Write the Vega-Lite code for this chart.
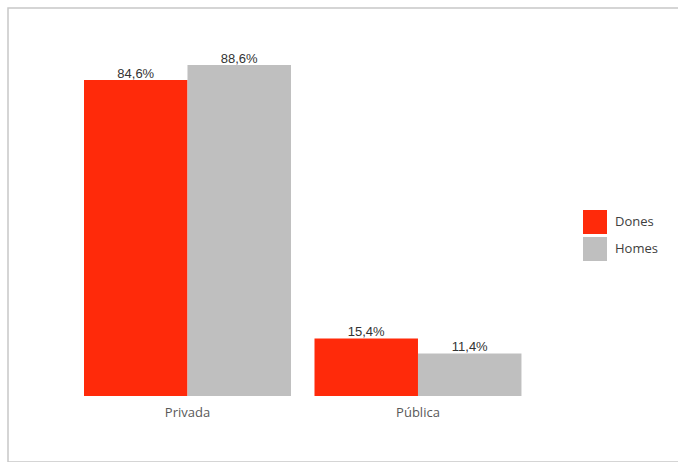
{
  "$schema": "https://vega.github.io/schema/vega-lite/v6.json",
  "width": 700,
  "height": 454,
  "autosize": "none",
  "padding": {"left": 8, "top": 8, "right": 0, "bottom": 0},
  "background": "white",
  "config": {
    "view": {"stroke": "#c8c8c8", "strokeWidth": 1.5},
    "font": "Open Sans"
  },
  "data": {
    "values": [
      {"sector": "Privada", "sexe": "Dones", "valor": 84.6, "etiqueta": "84,6%"},
      {"sector": "Privada", "sexe": "Homes", "valor": 88.6, "etiqueta": "88,6%"},
      {"sector": "Pública", "sexe": "Dones", "valor": 15.4, "etiqueta": "15,4%"},
      {"sector": "Pública", "sexe": "Homes", "valor": 11.4, "etiqueta": "11,4%"}
    ]
  },
  "encoding": {
    "x": {
      "field": "sector", "type": "nominal",
      "scale": {"paddingInner": 0.102, "paddingOuter": 0.5695, "align": 0.2895},
      "axis": {"title": null, "domain": false, "ticks": false, "labelAngle": 0, "offset": -66, "labelPadding": 10, "labelFont": "Open Sans", "labelFontSize": 13, "labelColor": "#595959"}
    },
    "xOffset": {"field": "sexe", "type": "nominal", "scale": {"paddingInner": 0, "paddingOuter": 0}},
    "y": {
      "field": "valor", "type": "quantitative",
      "scale": {"domain": [-17.67, 103.88], "zero": false, "nice": false},
      "axis": null
    }
  },
  "layer": [
    {
      "mark": {"type": "bar"},
      "encoding": {
        "y2": {"datum": 0},
        "color": {
          "field": "sexe", "type": "nominal",
          "scale": {"domain": ["Dones", "Homes"], "range": ["#ff2a0a", "#bfbfbf"]},
          "legend": {
            "title": null, "orient": "none", "legendX": 575, "legendY": 202,
            "symbolType": "square", "symbolSize": 576, "symbolStrokeWidth": 0, "symbolOpacity": 1,
            "rowPadding": 3, "labelOffset": 8,
            "labelFont": "Open Sans", "labelFontSize": 13, "labelColor": "#404040"
          }
        }
      }
    },
    {
      "mark": {"type": "text", "baseline": "bottom", "dy": 1, "font": "Liberation Sans", "fontSize": 13, "color": "#333333"},
      "encoding": {"text": {"field": "etiqueta"}}
    }
  ]
}
